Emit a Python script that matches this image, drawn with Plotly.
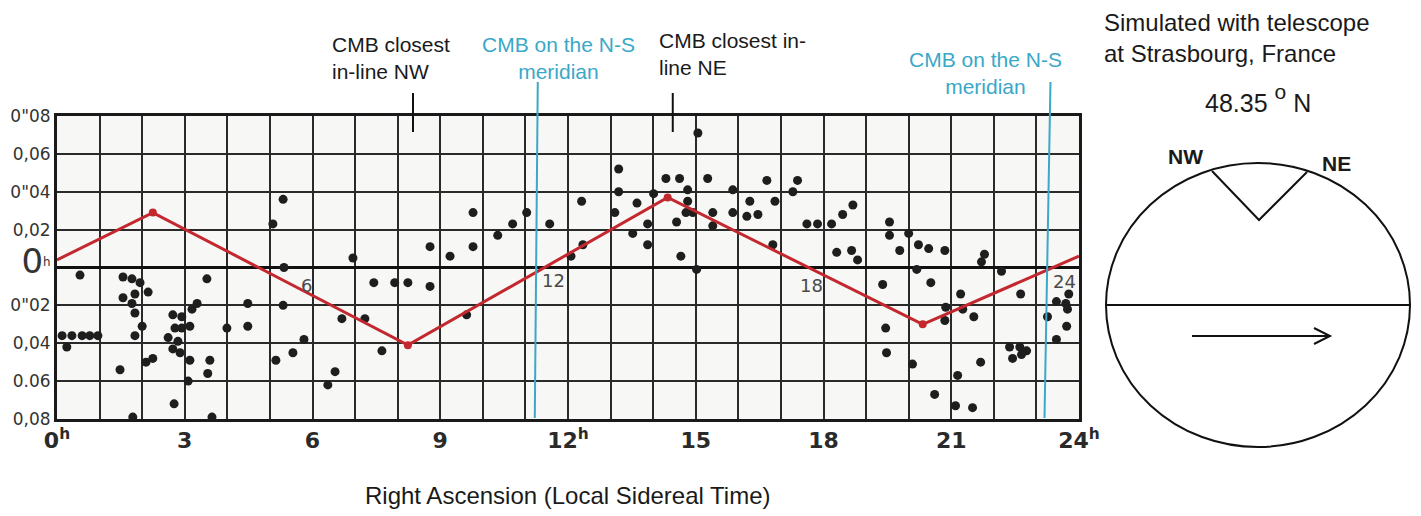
import plotly.graph_objects as go

# the page body adds an 8 px margin, so the figure is placed at (8, 8)
OFF = 8
W, H = 1421 - OFF, 516 - OFF

# ---------------- data ----------------
ra_hours = [0.54, 0.12, 0.35, 0.59, 0.77, 0.96, 0.23, 1.48, 1.78, 1.55,
            1.76, 1.95, 2.14, 1.83, 1.55, 1.76, 1.83, 2.00, 1.83, 2.09,
            2.25, 2.75, 2.72, 2.93, 3.17, 3.29, 2.77, 2.93, 3.12, 2.61,
            2.84, 2.72, 2.89, 3.12, 3.08, 3.59, 3.54, 3.64, 3.52, 3.99,
            4.48, 4.48, 5.07, 5.31, 5.33, 5.31, 5.14, 5.54, 5.80, 6.36,
            6.53, 6.69, 7.23, 6.95, 7.44, 7.93, 8.24, 8.76, 7.63, 8.76,
            9.23, 9.77, 9.77, 10.35, 10.70, 11.03, 11.57, 9.62, 12.07, 12.35,
            12.32, 13.19, 13.19, 13.10, 13.62, 13.52, 13.87, 13.87, 14.01, 14.30,
            14.62, 14.81, 14.81, 14.55, 14.77, 14.93, 14.65, 15.02, 15.05, 15.28,
            15.40, 15.40, 15.87, 15.87, 16.27, 16.20, 16.46, 16.67, 16.86, 17.28,
            17.39, 16.81, 17.61, 17.86, 18.19, 18.45, 18.69, 18.31, 18.66, 18.80,
            19.55, 19.55, 20.00, 19.79, 20.23, 20.47, 20.85, 20.19, 19.39, 20.52,
            21.22, 20.87, 21.27, 20.85, 21.53, 19.46, 19.48, 20.09, 21.15, 21.69,
            20.61, 21.10, 21.50, 21.78, 21.71, 22.18, 22.63, 22.37, 22.61, 22.77,
            22.44, 22.65, 23.26, 23.47, 23.69, 23.76, 23.73, 23.71, 23.47]

offsets = [-0.004, -0.036, -0.036, -0.036, -0.036, -0.036, -0.042, -0.054, -0.079, -0.005,
           -0.006, -0.008, -0.013, -0.014, -0.016, -0.019, -0.024, -0.031, -0.036, -0.050,
           -0.048, -0.072, -0.025, -0.026, -0.022, -0.019, -0.032, -0.032, -0.031, -0.037,
           -0.039, -0.043, -0.045, -0.049, -0.060, -0.049, -0.056, -0.079, -0.006, -0.032,
           -0.019, -0.031, 0.023, 0.036, -0.000, -0.020, -0.049, -0.045, -0.038, -0.062,
           -0.055, -0.027, -0.027, 0.005, -0.008, -0.008, -0.008, -0.010, -0.044, 0.011,
           0.006, 0.011, 0.029, 0.017, 0.023, 0.029, 0.023, -0.025, 0.006, 0.012,
           0.035, 0.052, 0.040, 0.029, 0.034, 0.018, 0.023, 0.012, 0.039, 0.047,
           0.047, 0.041, 0.035, 0.024, 0.029, 0.029, 0.006, -0.001, 0.071, 0.047,
           0.029, 0.022, 0.041, 0.029, 0.035, 0.027, 0.028, 0.046, 0.035, 0.040,
           0.046, 0.012, 0.023, 0.023, 0.023, 0.028, 0.033, 0.008, 0.009, 0.004,
           0.024, 0.017, 0.018, 0.009, 0.012, 0.010, 0.009, -0.001, -0.009, -0.008,
           -0.014, -0.021, -0.022, -0.028, -0.026, -0.032, -0.045, -0.051, -0.057, -0.050,
           -0.067, -0.073, -0.074, 0.007, 0.003, -0.002, -0.014, -0.042, -0.042, -0.044,
           -0.048, -0.046, -0.026, -0.018, -0.019, -0.014, -0.022, -0.031, -0.038]

model_hours = [0, 2.25, 8.24, 14.34, 20.33, 24]
model_offsets = [0.004, 0.029, -0.041, 0.037, -0.030, 0.006]

meridian_top = [11.29, 23.33]
meridian_bottom = [11.22, 23.19]
inline_hours = [8.36, 14.46]

x_tick_vals = [0, 3, 6, 9, 12, 15, 18, 21, 24]
x_tick_text = ["0<sup>h</sup>", "3", "6", "9", "12<sup>h</sup>", "15", "18", "21", "24<sup>h</sup>"]
y_tick_vals = [-0.08, -0.06, -0.04, -0.02, 0.0, 0.02, 0.04, 0.06, 0.08]
y_tick_text = ["0,08", "0.06", "0,04", "0\"02",
               '<span style="font-size:34px">0</span><sup>h</sup>',
               "0,02", "0\"04", "0,06", "0\"08"]

scan_labels = ["6", "12", "18", "24"]
scan_label_hours = [5.85, 11.65, 17.72, 23.66]
scan_label_offsets = [-0.0095, -0.007, -0.0095, -0.0076]

# ---------------- helpers ----------------
def px(x, y):
    """screen pixel -> paper fraction"""
    return (x - OFF) / W, 1 - (y - OFF) / H

FONT = "Liberation Sans, Arial, sans-serif"
CYAN = "#3aa8c8"
RED = "#c3282e"
GRID = "#2a2a2a"

fig = go.Figure()

fig.add_trace(go.Scatter(
    x=ra_hours, y=offsets, mode="markers",
    marker=dict(size=9, color="#1e1e1e", line=dict(width=0)),
    hoverinfo="skip", showlegend=False))

fig.add_trace(go.Scatter(
    x=model_hours, y=model_offsets, mode="lines",
    line=dict(color=RED, width=3), hoverinfo="skip", showlegend=False))

fig.add_trace(go.Scatter(
    x=model_hours[1:-1], y=model_offsets[1:-1], mode="markers",
    marker=dict(size=8, color=RED), hoverinfo="skip", showlegend=False))

for h, lab, v in zip(scan_label_hours, scan_labels, scan_label_offsets):
    fig.add_annotation(x=h, y=v, xref="x", yref="y", text=lab, showarrow=False,
                       font=dict(family="DejaVu Sans", size=18, color="#4a4a4a"))

shapes = []
# cyan meridian lines
for xt, xb in zip(meridian_top, meridian_bottom):
    shapes.append(dict(type="line", xref="x", yref="paper", x0=xt, x1=xb,
                       y0=px(0, 82)[1], y1=px(0, 418)[1], line=dict(color=CYAN, width=2)))
# black pointer ticks
for xh in inline_hours:
    shapes.append(dict(type="line", xref="x", yref="paper", x0=xh, x1=xh,
                       y0=px(0, 93)[1], y1=px(0, 132)[1], line=dict(color="#111", width=2)))

# right hand diagram (schematic)
cx0, cy0 = px(1106, 163)
cx1, cy1 = px(1410, 447)
shapes.append(dict(type="circle", xref="paper", yref="paper", x0=cx0, y0=cy1, x1=cx1, y1=cy0,
                   line=dict(color="#111", width=2)))
hx0, hy = px(1106, 305)
hx1, _ = px(1410, 305)
shapes.append(dict(type="line", xref="paper", yref="paper", x0=hx0, y0=hy, x1=hx1, y1=hy,
                   line=dict(color="#111", width=2)))
v_pts = [px(1212, 171), px(1259, 220), px(1307, 172)]
shapes.append(dict(type="path", xref="paper", yref="paper",
                   path="M {} {} L {} {} L {} {}".format(*[c for p in v_pts for c in p]),
                   line=dict(color="#111", width=2)))
a0 = px(1192, 336)
a1 = px(1330, 336)
b1 = px(1314, 328)
b2 = px(1314, 344)
shapes.append(dict(type="path", xref="paper", yref="paper",
                   path="M {} {} L {} {} M {} {} L {} {} L {} {}".format(
                       a0[0], a0[1], a1[0], a1[1], b1[0], b1[1], a1[0], a1[1], b2[0], b2[1]),
                   line=dict(color="#111", width=2)))

def note(x, y, text, size, color="#1a1a1a", xanchor="left", bold=False, align="left"):
    xp, yp = px(x, y)
    fig.add_annotation(x=xp, y=yp, xref="paper", yref="paper", text=text, showarrow=False,
                       xanchor=xanchor, yanchor="middle", align=align,
                       font=dict(family=FONT, size=size, color=color,
                                 weight="bold" if bold else "normal"))

note(330, 58, "CMB closest<br>in-line NW", 21)
note(558, 58, "CMB on the N-S<br>meridian", 21, color=CYAN, xanchor="center", align="center")
note(657, 54, "CMB closest in-<br>line NE", 21)
note(985, 73, "CMB on the N-S<br>meridian", 21, color=CYAN, xanchor="center", align="center")
note(1102, 38, "Simulated with telescope<br>at Strasbourg, France", 24)
note(1203, 98, '48.35 <span style="font-size:30px"><sup>o</sup></span> N', 25)
note(1185, 157, "NW", 21, bold=True, xanchor="center")
note(1336, 163, "NE", 21, bold=True, xanchor="center")
note(568, 495, "Right Ascension (Local Sidereal Time)", 24, xanchor="center")

x_dom = [px(57, 0)[0], px(1079, 0)[0]]
y_dom = [px(0, 419)[1], px(0, 116)[1]]

fig.update_layout(
    width=W, height=H,
    margin=dict(l=0, r=0, t=0, b=0, autoexpand=False),
    paper_bgcolor="white",
    plot_bgcolor="#f7f7f5",
    shapes=shapes,
    showlegend=False,
    xaxis=dict(domain=x_dom, range=[0, 24], automargin=False,
               showgrid=True, gridcolor=GRID, gridwidth=2,
               minor=dict(tickmode="linear", tick0=0, dtick=1, showgrid=True,
                          gridcolor=GRID, gridwidth=2, ticks=""),
               showline=True, linecolor="#1a1a1a", linewidth=3, mirror=True,
               zeroline=False, tickmode="array", tickvals=x_tick_vals, ticktext=x_tick_text,
               ticks="", tickfont=dict(family="DejaVu Sans", size=22, color="#2a2a2a", weight="bold"),
               fixedrange=True),
    yaxis=dict(domain=y_dom, range=[-0.08, 0.08], automargin=False,
               tickmode="array", tickvals=y_tick_vals, ticktext=y_tick_text,
               showgrid=True, gridcolor=GRID, gridwidth=2,
               showline=True, linecolor="#1a1a1a", linewidth=3, mirror=True,
               zeroline=True, zerolinecolor="#111", zerolinewidth=3,
               ticks="", tickfont=dict(family="DejaVu Sans", size=17, color="#333"),
               fixedrange=True),
)

fig.write_html("out.html")
